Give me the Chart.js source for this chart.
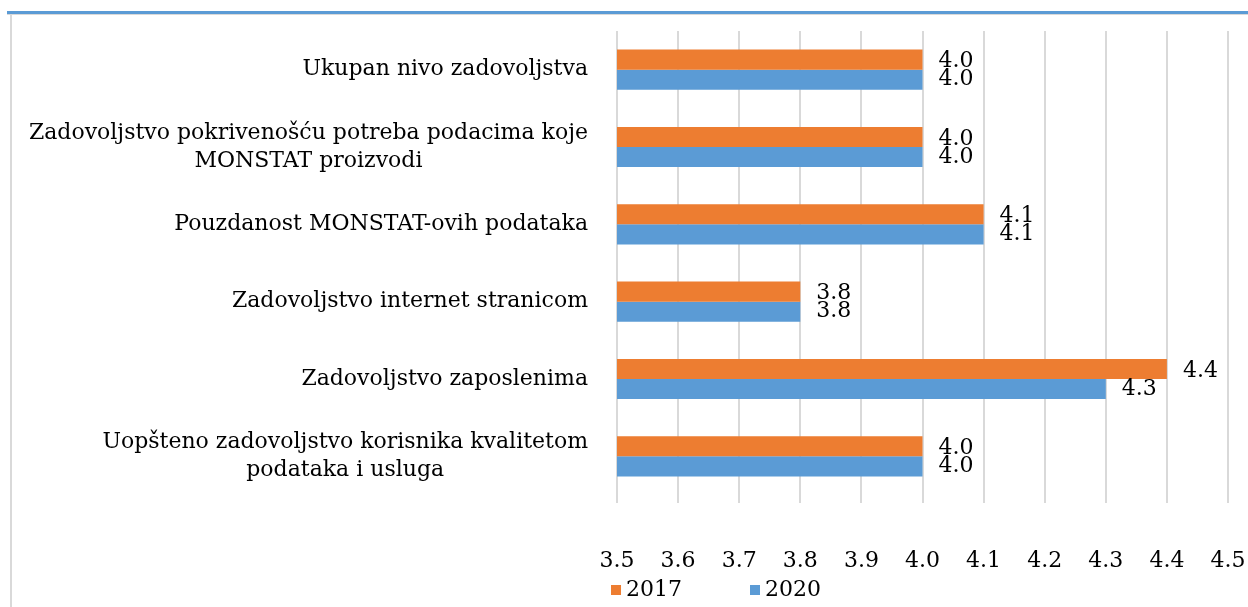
<!DOCTYPE html>
<html>
<head>
<meta charset="utf-8">
<script src="https://cdn.jsdelivr.net/npm/chart.js@4"></script>
<style>
  html, body { margin: 0; padding: 0; background: #fff; overflow: hidden; width: 1248px; height: 607px; }
  #wrap { position: absolute; left: 0; top: 14px; width: 1432px; height: 593px; }
  #topline { position: absolute; left: 7px; top: 11px; width: 1241px; height: 3px; background: #5B9BD5; }
  #topgray { position: absolute; left: 7px; top: 14px; width: 1241px; height: 1px; background: #d9d9d9; }
  #leftgray { position: absolute; left: 10px; top: 14px; width: 2px; height: 593px; background: #d9d9d9; }
</style>
</head>
<body>
<div id="wrap"><canvas id="chart" width="1432" height="593"></canvas></div>
<div id="topline"></div>
<div id="topgray"></div>
<div id="leftgray"></div>
<script>
// data
var categories = [
    ['Ukupan nivo zadovoljstva'],
    ['Zadovoljstvo pokrivenošću potreba podacima koje', 'MONSTAT proizvodi'],
    ['Pouzdanost MONSTAT-ovih podataka'],
    ['Zadovoljstvo internet stranicom'],
    ['Zadovoljstvo zaposlenima'],
    ['Uopšteno zadovoljstvo korisnika kvalitetom', 'podataka i usluga']
];
var seriesNames = ['2017', '2020'];
var values2017 = [4.0, 4.0, 4.1, 3.8, 4.4, 4.0];
var values2020 = [4.0, 4.0, 4.1, 3.8, 4.3, 4.0];
var xMin = 3.5, xMax = 4.5, xStep = 0.1;

var FONT = '"DejaVu Serif", serif';
var FSIZE = 22;

// value labels at bar ends
var valueLabels = {
    id: 'valueLabels',
    afterDatasetsDraw: function(chart) {
        var ctx = chart.ctx;
        ctx.save();
        ctx.font = FSIZE + 'px ' + FONT;
        ctx.fillStyle = '#000';
        ctx.textAlign = 'left';
        ctx.textBaseline = 'middle';
        chart.data.datasets.forEach(function(ds, di) {
            var meta = chart.getDatasetMeta(di);
            meta.data.forEach(function(el, i) {
                var dy = di === 0 ? 2 : 0;
                ctx.fillText(ds.data[i].toFixed(1), el.x + 16, el.y + dy);
            });
        });
        ctx.restore();
    }
};

// category labels: block right aligned, lines centred within block
var categoryLabels = {
    id: 'categoryLabels',
    afterDraw: function(chart) {
        var ctx = chart.ctx;
        var y = chart.scales.y;
        var right = chart.chartArea.left - 29;
        ctx.save();
        ctx.font = FSIZE + 'px ' + FONT;
        ctx.fillStyle = '#000';
        ctx.textAlign = 'center';
        ctx.textBaseline = 'middle';
        categories.forEach(function(lines, i) {
            var cy = y.getPixelForTick(i);
            var w = 0;
            lines.forEach(function(l) { w = Math.max(w, ctx.measureText(l).width); });
            var cx = right - w / 2;
            var lh = 28;
            var y0 = cy - (lines.length - 1) * lh / 2;
            lines.forEach(function(l, k) {
                ctx.fillText(l, cx, y0 + k * lh);
            });
        });
        ctx.restore();
    }
};

// legend drawn by hand so the gap between items does not add height
var bottomLegend = {
    id: 'bottomLegend',
    afterDraw: function(chart) {
        var ctx = chart.ctx;
        var ds = chart.data.datasets;
        var box = 10, gap = 5, spacing = 68;
        ctx.save();
        ctx.font = FSIZE + 'px ' + FONT;
        ctx.textBaseline = 'middle';
        ctx.textAlign = 'left';
        var total = 0;
        ds.forEach(function(d, i) {
            total += box + gap + ctx.measureText(d.label).width;
            if (i < ds.length - 1) total += spacing;
        });
        var x = chart.width / 2 - total / 2;
        var cy = chart.height - 17;
        ds.forEach(function(d) {
            ctx.fillStyle = d.backgroundColor;
            ctx.fillRect(x, cy - box / 2, box, box);
            x += box + gap;
            ctx.fillStyle = '#000';
            ctx.fillText(d.label, x, cy);
            x += ctx.measureText(d.label).width + spacing;
        });
        ctx.restore();
    }
};

var ctx = document.getElementById('chart').getContext('2d');
var chart = new Chart(ctx, {
    type: 'bar',
    data: {
        labels: categories,
        datasets: [{
            label: seriesNames[0],
            data: values2017,
            backgroundColor: '#ED7D31',
            categoryPercentage: 0.52,
            barPercentage: 1.0
        }, {
            label: seriesNames[1],
            data: values2020,
            backgroundColor: '#5B9BD5',
            categoryPercentage: 0.52,
            barPercentage: 1.0
        }]
    },
    plugins: [valueLabels, categoryLabels, bottomLegend],
    options: {
        indexAxis: 'y',
        responsive: false,
        animation: false,
        layout: { padding: { left: 609, right: 204, top: 17, bottom: 20 } },
        scales: {
            x: {
                min: xMin,
                max: xMax,
                afterFit: function(scale) { scale.height = 92; },
                ticks: {
                    stepSize: xStep,
                    padding: 45,
                    color: '#000',
                    font: { family: FONT, size: FSIZE },
                    maxRotation: 0,
                    callback: function(v) { return v.toFixed(1); }
                },
                grid: { color: '#d9d9d9', lineWidth: 2, tickLength: 8 },
                border: { display: false }
            },
            y: {
                ticks: { display: false },
                grid: { display: false },
                border: { display: false }
            }
        },
        plugins: {
            legend: { display: false },
            tooltip: { enabled: false }
        }
    }
});
</script>
</body>
</html>
